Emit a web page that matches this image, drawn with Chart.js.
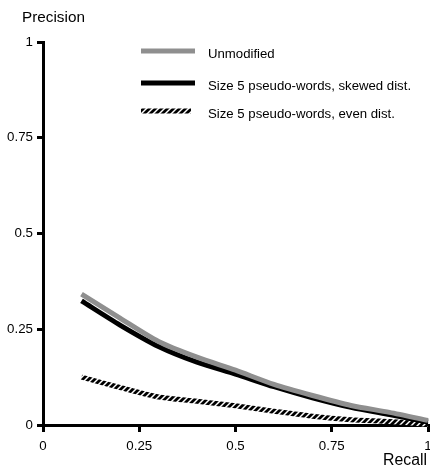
<!DOCTYPE html>
<html><head><meta charset="utf-8">
<script src="https://cdn.jsdelivr.net/npm/chart.js@4"></script>
<style>html,body{margin:0;padding:0;background:#fff}canvas{display:block}</style>
</head><body>
<canvas id="c" width="430" height="468" style="width:430px;height:468px"></canvas>
<script>
const recall = [0.1, 0.2, 0.3, 0.4, 0.5, 0.6, 0.7, 0.8, 0.9, 1.0];
const unmodified = [0.342, 0.279, 0.218, 0.177, 0.143, 0.106, 0.077, 0.051, 0.033, 0.012];
const skewedDist = [0.324, 0.261, 0.205, 0.164, 0.133, 0.100, 0.071, 0.046, 0.027, 0.008];
const evenDist = [0.125, 0.098, 0.073, 0.062, 0.050, 0.036, 0.023, 0.014, 0.009, 0.002];
const xTickLabels = ['0', '0.25', '0.5', '0.75', '1'];
const yTickLabels = ['0', '0.25', '0.5', '0.75', '1'];
const seriesLabels = ['Unmodified', 'Size 5 pseudo-words, skewed dist.', 'Size 5 pseudo-words, even dist.'];
const xTitle = 'Recall';
const yTitle = 'Precision';

const FONT = "'Liberation Sans', Arial, Helvetica, sans-serif";

function hatchPattern() {
  const c = document.createElement('canvas');
  c.width = 6; c.height = 6;
  const g = c.getContext('2d');
  g.fillStyle = '#fff'; g.fillRect(0, 0, 6, 6);
  g.strokeStyle = '#000'; g.lineWidth = 2.8;
  g.beginPath();
  g.moveTo(-3, 3); g.lineTo(3, -3);
  g.moveTo(-3, 9); g.lineTo(9, -3);
  g.moveTo(3, 9); g.lineTo(9, 3);
  g.stroke();
  return g.createPattern(c, 'repeat');
}

function pts(arr) { return recall.map((r, i) => ({ x: r, y: arr[i] })); }

const hatch = hatchPattern();

const overlay = {
  id: 'overlay',
  afterDatasetsDraw(chart) {
    const ctx = chart.ctx;
    ctx.save();
    ctx.fillStyle = '#000';
    ctx.font = '15.3px ' + FONT;
    ctx.textBaseline = 'middle';
    ctx.textAlign = 'left';
    ctx.fillText(yTitle, 22, 17.5);
    ctx.font = '15.8px ' + FONT;
    ctx.textAlign = 'right';
    ctx.fillText(xTitle, 427, 461);
    // legend
    const rows = [51, 83, 111];
    const ends = [195, 195, 191];
    ctx.textAlign = 'left';
    ctx.font = '13.2px ' + FONT;
    chart.data.datasets.forEach((ds, i) => {
      ctx.beginPath();
      ctx.lineCap = 'butt';
      ctx.lineWidth = 5;
      ctx.strokeStyle = ds.borderColor;
      ctx.moveTo(141, rows[i]);
      ctx.lineTo(ends[i], rows[i]);
      ctx.stroke();
      ctx.fillStyle = '#000';
      ctx.fillText(ds.label, 208, rows[i] + 3);
    });
    ctx.restore();
  }
};

new Chart(document.getElementById('c'), {
  type: 'line',
  data: {
    datasets: [
      { label: seriesLabels[0], data: pts(unmodified), borderColor: '#8f8f8f', borderWidth: 5 },
      { label: seriesLabels[1], data: pts(skewedDist), borderColor: '#000000', borderWidth: 5 },
      { label: seriesLabels[2], data: pts(evenDist), borderColor: hatch, borderWidth: 5 }
    ]
  },
  options: {
    responsive: false,
    animation: false,
    devicePixelRatio: 1,
    layout: { padding: { top: 42, right: 2, left: 0, bottom: 0 } },
    elements: {
      point: { radius: 0, hoverRadius: 0 },
      line: { tension: 0.25, fill: false, borderCapStyle: 'butt', borderJoinStyle: 'round' }
    },
    datasets: { line: { clip: false } },
    plugins: { legend: { display: false }, tooltip: { enabled: false }, title: { display: false } },
    scales: {
      x: {
        type: 'linear', min: 0, max: 1,
        border: { display: true, color: '#000', width: 3 },
        grid: { display: true, drawOnChartArea: false, drawTicks: true, tickLength: 7, color: '#000', lineWidth: 3 },
        ticks: {
          stepSize: 0.25, autoSkip: false, maxRotation: 0, padding: 6,
          color: '#000', font: { family: FONT, size: 13.3 },
          callback: (v, i) => xTickLabels[i]
        },
        afterFit(s) { s.height = 43; s.paddingLeft = 0; s.paddingRight = 0; }
      },
      y: {
        type: 'linear', min: 0, max: 1,
        border: { display: true, color: '#000', width: 3 },
        grid: { display: true, drawOnChartArea: false, drawTicks: true, tickLength: 6, color: '#000', lineWidth: 3 },
        ticks: {
          stepSize: 0.25, autoSkip: false, padding: 4,
          color: '#000', font: { family: FONT, size: 13.3 },
          callback: (v, i) => yTickLabels[i]
        },
        afterFit(s) { s.width = 43; s.paddingTop = 0; s.paddingBottom = 0; }
      }
    }
  },
  plugins: [overlay]
});
</script>
</body></html>
